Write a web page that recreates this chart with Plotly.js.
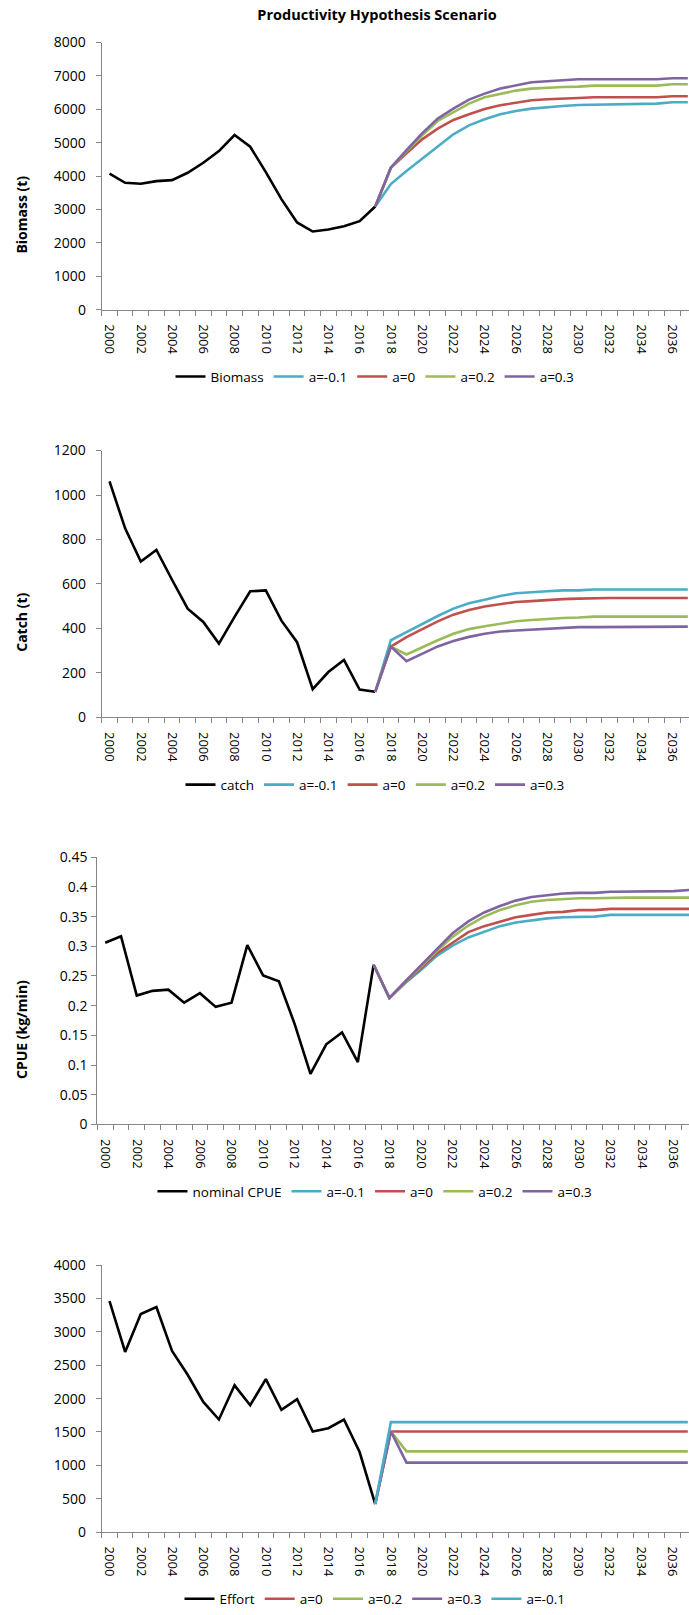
<!DOCTYPE html>
<html>
<head>
<meta charset="utf-8">
<script src="https://cdn.plot.ly/plotly-3.0.1.min.js"></script>
<style>
html,body{margin:0;padding:0;background:#fff;overflow:hidden;}
#chart{width:689px;height:1615px;}
</style>
</head>
<body>
<div id="chart"></div>
<script>
// ---------- data ----------
const years = [2000,2001,2002,2003,2004,2005,2006,2007,2008,2009,2010,2011,2012,2013,2014,2015,2016,2017,2018,2019,2020,2021,2022,2023,2024,2025,2026,2027,2028,2029,2030,2031,2032,2033,2034,2035,2036,2037];
const histYears = years.slice(0, 18);   // 2000-2017
const projYears = years.slice(17);      // 2017-2037
const xTickVals = [2000,2002,2004,2006,2008,2010,2012,2014,2016,2018,2020,2022,2024,2026,2028,2030,2032,2034,2036];
const xTickText = ['2000','2002','2004','2006','2008','2010','2012','2014','2016','2018','2020','2022','2024','2026','2028','2030','2032','2034','2036'];

// Biomass (t)
const biomass = [4070,3800,3770,3850,3880,4100,4400,4750,5230,4880,4120,3310,2610,2340,2400,2500,2650,3090];
const biomassAm01 = [3090,3760,4150,4520,4900,5250,5520,5700,5850,5950,6020,6070,6100,6130,6140,6160,6170,6170,6170,6210,6210];
const biomassA0   = [3090,4250,4680,5100,5420,5680,5850,6010,6120,6200,6270,6300,6330,6340,6360,6360,6360,6360,6360,6390,6390];
const biomassA02  = [3090,4250,4750,5220,5650,5920,6170,6360,6460,6560,6620,6650,6670,6680,6710,6710,6710,6710,6710,6750,6750];
const biomassA03  = [3090,4250,4780,5280,5720,6020,6290,6470,6620,6710,6810,6840,6870,6900,6900,6900,6900,6900,6900,6930,6930];
const biomassTicks = [0,1000,2000,3000,4000,5000,6000,7000,8000];
const biomassTickText = ['0','1000','2000','3000','4000','5000','6000','7000','8000'];

// Catch (t)
const catchHist = [1061,850,701,753,619,489,429,332,452,567,571,435,338,127,204,258,125,115];
const catchAm01 = [115,347,383,420,456,489,513,529,546,558,564,567,571,571,575,575,575,575,575,575,575];
const catchA0   = [115,318,361,398,432,462,483,499,510,519,523,528,532,534,537,537,537,537,537,537,537];
const catchA02  = [115,318,283,316,347,376,397,410,422,432,438,444,447,449,453,453,453,453,453,453,453];
const catchA03  = [115,318,253,286,319,343,362,376,386,391,395,399,404,406,406,406,408,408,408,408,408];
const catchTicks = [0,200,400,600,800,1000,1200];
const catchTickText = ['0','200','400','600','800','1000','1200'];

// CPUE (kg/min)
const cpue = [0.306,0.317,0.217,0.225,0.227,0.205,0.221,0.198,0.205,0.302,0.251,0.241,0.169,0.085,0.135,0.155,0.105,0.269];
const cpueAm01 = [0.269,0.213,0.238,0.260,0.284,0.301,0.315,0.325,0.334,0.340,0.344,0.347,0.349,0.350,0.350,0.353,0.353,0.353,0.353,0.353,0.353];
const cpueA0   = [0.269,0.213,0.239,0.263,0.288,0.306,0.324,0.334,0.342,0.349,0.353,0.357,0.358,0.361,0.361,0.363,0.363,0.363,0.363,0.363,0.363];
const cpueA02  = [0.269,0.213,0.240,0.266,0.292,0.316,0.335,0.350,0.361,0.369,0.375,0.378,0.380,0.381,0.381,0.382,0.382,0.382,0.382,0.382,0.382];
const cpueA03  = [0.269,0.213,0.241,0.268,0.296,0.322,0.342,0.357,0.368,0.377,0.383,0.386,0.389,0.390,0.390,0.392,0.392,0.392,0.392,0.393,0.395];
const cpueTicks = [0,0.05,0.1,0.15,0.2,0.25,0.3,0.35,0.4,0.45];
const cpueTickText = ['0','0.05','0.1','0.15','0.2','0.25','0.3','0.35','0.4','0.45'];

// Effort
const effort = [3463,2700,3269,3373,2716,2358,1950,1687,2199,1900,2293,1831,1990,1507,1557,1687,1199,420];
const effortA0   = [420,1507,1507,1507,1507,1507,1507,1507,1507,1507,1507,1507,1507,1507,1507,1507,1507,1507,1507,1507,1507];
const effortA02  = [420,1507,1209,1209,1209,1209,1209,1209,1209,1209,1209,1209,1209,1209,1209,1209,1209,1209,1209,1209,1209];
const effortA03  = [420,1507,1040,1040,1040,1040,1040,1040,1040,1040,1040,1040,1040,1040,1040,1040,1040,1040,1040,1040,1040];
const effortAm01 = [420,1648,1648,1648,1648,1648,1648,1648,1648,1648,1648,1648,1648,1648,1648,1648,1648,1648,1648,1648,1648];
const effortTicks = [0,500,1000,1500,2000,2500,3000,3500,4000];
const effortTickText = ['0','500','1000','1500','2000','2500','3000','3500','4000'];

// ---------- styles ----------
const C = {black:'#000000', cyan:'#4BACC6', red:'#C0504D', green:'#9BBB59', purple:'#8064A2'};
const FONT = 'Open Sans, Liberation Sans, sans-serif';
const AXC = '#868686';
const W = 689, H = 1615;
const LW = 2.6;

function tr(x, y, name, color, idx){
  const s = idx === 1 ? '' : String(idx);
  return {x:x, y:y, name:name, type:'scatter', mode:'lines',
    line:{color:color, width:LW}, xaxis:'x'+s, yaxis:'y'+s,
    legend: idx === 1 ? 'legend' : 'legend'+idx, hoverinfo:'skip'};
}

const traces = [
  tr(histYears, biomass, 'Biomass', C.black, 1),
  tr(projYears, biomassAm01, 'a=-0.1', C.cyan, 1),
  tr(projYears, biomassA0, 'a=0', C.red, 1),
  tr(projYears, biomassA02, 'a=0.2', C.green, 1),
  tr(projYears, biomassA03, 'a=0.3', C.purple, 1),

  tr(histYears, catchHist, 'catch', C.black, 2),
  tr(projYears, catchAm01, 'a=-0.1', C.cyan, 2),
  tr(projYears, catchA0, 'a=0', C.red, 2),
  tr(projYears, catchA02, 'a=0.2', C.green, 2),
  tr(projYears, catchA03, 'a=0.3', C.purple, 2),

  tr(histYears, cpue, 'nominal CPUE', C.black, 3),
  tr(projYears, cpueAm01, 'a=-0.1', C.cyan, 3),
  tr(projYears, cpueA0, 'a=0', C.red, 3),
  tr(projYears, cpueA02, 'a=0.2', C.green, 3),
  tr(projYears, cpueA03, 'a=0.3', C.purple, 3),

  tr(histYears, effort, 'Effort', C.black, 4),
  tr(projYears, effortA0, 'a=0', C.red, 4),
  tr(projYears, effortA02, 'a=0.2', C.green, 4),
  tr(projYears, effortA03, 'a=0.3', C.purple, 4),
  tr(projYears, effortAm01, 'a=-0.1', C.cyan, 4)
];

// ---------- layout geometry (pixels) ----------
const panels = [
  {left:101.7, top:42.7,  bottom:311,    cat:15.63, ymax:8000, tv:biomassTicks, tt:biomassTickText, title:'Biomass (t)',   titleY:216,  legendY:378.3, ystand:7},
  {left:101.7, top:452.5, bottom:720.5,  cat:15.63, ymax:1200, tv:catchTicks,   tt:catchTickText,   title:'Catch (t)',     titleY:625,  legendY:788.3, ystand:7},
  {left:97.3,  top:861,   bottom:1129.3, cat:15.79, ymax:0.45, tv:cpueTicks,    tt:cpueTickText,    title:'CPUE (kg/min)', titleY:1034, legendY:1196.7, ystand:1},
  {left:101.7, top:1270.7,bottom:1538.7, cat:15.63, ymax:4000, tv:effortTicks,  tt:effortTickText,  title:'',              titleY:0,    legendY:1606, ystand:7}
];

const minorVals = [];
for (let b = 1999.5; b < 2040; b += 1) minorVals.push(b);

const layout = {
  width: W, height: H,
  margin: {l:0, r:0, t:0, b:0, pad:0},
  paper_bgcolor:'#fff', plot_bgcolor:'#fff',
  font: {family: FONT, size: 13, color:'#000'},
  showlegend: true,
  title: {text:'<b>Productivity Hypothesis Scenario</b>', x:377/W, xanchor:'center', xref:'paper',
          y:1-15/H, yanchor:'middle', yref:'paper', font:{family:FONT, size:14.5, color:'#000'}},
  annotations: []
};

panels.forEach((p, i) => {
  const s = i === 0 ? '' : String(i+1);
  const plotW = W - p.left;
  const xEnd = 1999.5 + plotW / p.cat;
  layout['xaxis'+s] = {
    domain: [p.left/W, 1], anchor: 'y'+s, range: [1999.5, xEnd],
    showline: true, linecolor: AXC, linewidth: 1,
    showgrid: false, zeroline: false, fixedrange: true,
    tickmode: 'array', tickvals: xTickVals, ticktext: xTickText, tickangle: 90,
    ticks: '', ticklabelstandoff: 11,
    tickfont: {family: FONT, size: 13, color:'#000'},
    minor: {tickmode: 'array', tickvals: minorVals, ticks: 'outside', ticklen: 5, tickwidth: 1, tickcolor: AXC, showgrid:false}
  };
  layout['yaxis'+s] = {
    domain: [1 - p.bottom/H, 1 - p.top/H], anchor: 'x'+s, range: [0, p.ymax],
    showline: true, linecolor: AXC, linewidth: 1,
    showgrid: false, zeroline: false, fixedrange: true,
    tickmode: 'array', tickvals: p.tv, ticktext: p.tt,
    ticks: 'outside', ticklen: 5, tickwidth: 1, tickcolor: AXC,
    ticklabelstandoff: p.ystand,
    tickfont: {family: FONT, size: 14, color:'#000'}
  };
  const lg = i === 0 ? 'legend' : 'legend'+(i+1);
  layout[lg] = {
    orientation: 'h', x: 375/W, xanchor: 'center', xref:'paper',
    y: 1 - p.legendY/H, yanchor: 'middle', yref:'paper',
    font: {family: FONT, size: 13.5, color:'#000'},
    bgcolor: 'rgba(0,0,0,0)', itemwidth: 30, tracegroupgap: 0, itemclick:false, itemdoubleclick:false
  };
  if (p.title) {
    layout.annotations.push({
      text: '<b>' + p.title + '</b>', textangle: -90, showarrow: false,
      xref: 'paper', x: 21.5/W, xanchor: 'center',
      yref: 'paper', y: 1 - p.titleY/H, yanchor: 'middle',
      font: {family: FONT, size: 14, color:'#000'}
    });
  }
});

Plotly.newPlot('chart', traces, layout, {staticPlot: true, displayModeBar: false});
</script>
</body>
</html>
